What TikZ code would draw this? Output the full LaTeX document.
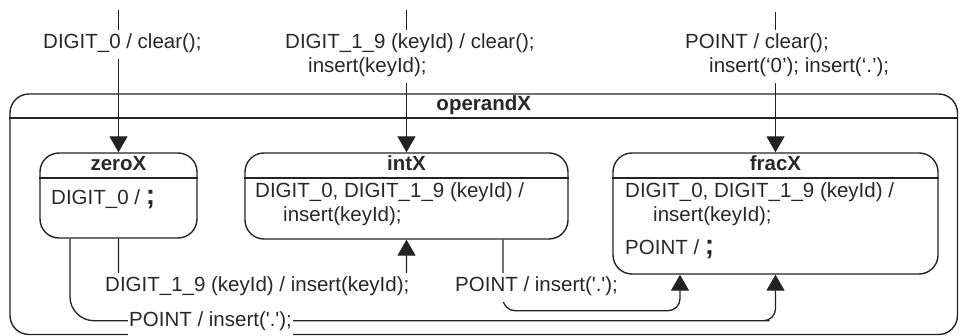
\documentclass[tikz,border=0pt]{standalone}
\usepackage{fontspec}
\setmainfont{Liberation Sans}
\usetikzlibrary{arrows.meta}
\definecolor{ink}{RGB}{35,35,35}
\definecolor{txt}{RGB}{40,40,40}
\tikzset{
  box/.style={draw=ink, line width=1.4pt, rounded corners=19pt, inner sep=0pt},
  sep/.style={draw=ink, line width=1.4pt},
  trans/.style={draw=ink, line width=1.3pt, -{Triangle[width=18pt,length=16pt]}},
  lbl/.style={anchor=base west, fill=white, inner xsep=1pt, inner ysep=2.5pt, text=txt, font=\fontsize{20.5}{24}\selectfont\strut},
  txtl/.style={anchor=base west, inner sep=0pt, text=txt, font=\fontsize{20.5}{24}\selectfont},
  ttl/.style={anchor=base, inner sep=0pt, text=txt, font=\fontsize{20.5}{24}\selectfont\bfseries},
}
\newcommand{\bigsemi}{{\fontsize{28}{28}\selectfont\bfseries;}}
\begin{document}
\begin{tikzpicture}[x=1pt,y=-1pt]
\useasboundingbox (0,0) rectangle (959,336);
% container
\node[box, minimum width=947.5pt, minimum height=240.5pt] (operandX) at (483.75,214.25) {};
\draw[sep] (operandX.west |- 0,118) -- (operandX.east |- 0,118);
\node[ttl] (tOp) at (483.75,111) {operandX};
% states
\node[box, minimum width=157pt, minimum height=85pt] (zeroX) at (118.5,195.5) {};
\node[box, minimum width=323pt, minimum height=86pt] (intX) at (406.5,196) {};
\node[box, minimum width=325pt, minimum height=121pt] (fracX) at (775.5,213.5) {};
\draw[sep] (zeroX.west |- 0,178) -- (zeroX.east |- 0,178);
\draw[sep] (intX.west |- 0,178) -- (intX.east |- 0,178);
\draw[sep] (fracX.west |- 0,178) -- (fracX.east |- 0,178);
\node[ttl] (tZero) at (118.5,171) {zeroX};
\node[ttl] (tInt) at (406.5,171) {intX};
\node[ttl] (tFrac) at (775.5,171) {fracX};
% internal texts
\node[txtl] (zi1) at (51,205) {DIGIT\_0 / \bigsemi};
\node[txtl] (ii1) at (255,198) {DIGIT\_0, DIGIT\_1\_9 (keyId) /};
\node[txtl] (ii2) at (283,222) {insert(keyId);};
\node[txtl] (fi1) at (625,198) {DIGIT\_0, DIGIT\_1\_9 (keyId) /};
\node[txtl] (fi2) at (653,222) {insert(keyId);};
\node[txtl] (fi3) at (625,255) {POINT / \bigsemi};
% initial transitions
\coordinate (s0) at (118.5,10);
\coordinate (s1) at (406.5,10);
\coordinate (s2) at (775.5,12);
\draw[trans] (s0) -- (zeroX.north);
\draw[trans] (s1) -- (intX.north);
\draw[trans] (s2) -- (fracX.north);
% internal transitions
\draw[trans, rounded corners=8pt] (zeroX.south) |- ([yshift=-43pt]intX.south) -- (intX.south);
\draw[trans, rounded corners=12pt] ([xshift=96.5pt]intX.south) |- ([xshift=-95.5pt,yshift=-36pt]fracX.south) -- ([xshift=-95.5pt]fracX.south);
\draw[trans] ([xshift=-48.5pt]zeroX.south) [rounded corners=24pt] |- ([xshift=-30pt,yshift=-46pt]fracX.south) [rounded corners=12pt] -| (fracX.south);
% labels
\node[lbl] (l0) at (42,49) {DIGIT\_0 / clear();};
\node[lbl] (l1a) at (284,49) {DIGIT\_1\_9 (keyId) / clear();};
\node[lbl] (l1b) at (307,73) {insert(keyId);};
\node[lbl] (l2a) at (684,49) {POINT / clear();};
\node[lbl] (l2b) at (708,73) {insert(`0'); insert(`.');};
\node[lbl] (l3) at (104,292) {DIGIT\_1\_9 (keyId) / insert(keyId);};
\node[lbl] (l4) at (454,292) {POINT / insert(\textquotesingle.\textquotesingle);};
\node[lbl] (l5) at (128,327) {POINT / insert(\textquotesingle.\textquotesingle);};
\end{tikzpicture}
\end{document}
